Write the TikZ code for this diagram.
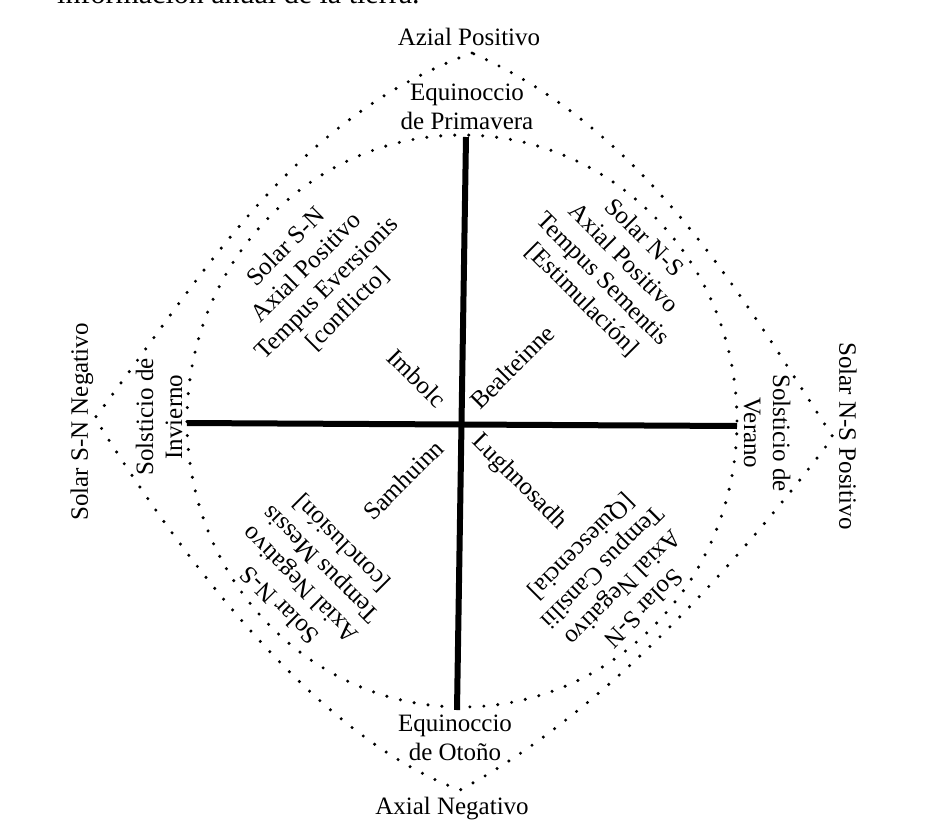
\documentclass[tikz,border=0pt]{standalone}
\usepackage{fontspec}
\setmainfont{Liberation Serif}
\begin{document}
\begin{tikzpicture}[x=1pt,y=-1pt,
  lbl/.style={font=\fontsize{25}{29}\selectfont, inner sep=0pt, align=center},
  bodytext/.style={font=\fontsize{30}{36}\selectfont, inner sep=0pt, anchor=base west},
  axisline/.style={line width=6pt},
  dotline/.style={line width=3.4pt, line cap=round, dash pattern=on 0pt off 14pt}]
\useasboundingbox[fill=white] (0,0) rectangle (935,836);

% truncated caption line at the top edge
\node[bodytext] (cap) at (57,3) {información anual de la tierra.};

% outer pointed dotted shape
\coordinate (T) at (472,53);
\coordinate (L) at (95,418);
\coordinate (R) at (833,437);
\coordinate (B) at (460,790);
\draw[dotline] (T) .. controls (293,118) and (205,272) .. (L)
  .. controls (174,545) and (310,735) .. (B)
  .. controls (601,715) and (737,565) .. (R)
  .. controls (740,294) and (646,130) .. (T);

% inner dotted ellipse
\coordinate (C) at (462,421);
\draw[dotline] (C) ellipse [x radius=275pt, y radius=286pt];

% cross
\coordinate (N) at (466,137);
\coordinate (S) at (457,710);
\coordinate (W) at (187,423);
\coordinate (E) at (737,426);
\draw[axisline] (N) -- (S);
\draw[axisline] (W) -- (E);

% outer labels
\node[lbl] (axpos) at (469,37) {Azial Positivo};
\node[lbl] (eqp) at (467,107) {Equinoccio\\de Primavera};
\node[lbl] (eqo) at (455,738) {Equinoccio\\de Otoño};
\node[lbl] (axneg) at (452,809) {Axial Negativo};
\node[lbl, rotate=90] (snneg) at (82,422) {Solar S-N Negativo};
\node[lbl, rotate=90] (solinv) at (159,417) {Solsticio de\\Invierno};
\node[lbl, rotate=-90] (nspos) at (848,436) {Solar N-S Positivo};
\node[lbl, rotate=-90] (solver) at (767,433) {Solsticio de\\Verano};

% quadrant blocks
\node[lbl, rotate=45] (ul) at (317,278) {Solar S-N\\Axial Positivo\\Tempus Eversionis\\{[conflicto]}};
\node[lbl, rotate=-45] (ur) at (613,269) {Solar N-S\\Axial Positivo\\Tempus Sementis\\{[Estimulación]}};
\node[lbl, rotate=135] (ll) at (311,574) {Solar N-S\\Axial Negativo\\Tempus Messis\\{[conclusión]}};
\node[lbl, rotate=-135] (lr) at (612,577) {Solar S-N\\Axial Negativo\\Tempus Cansilii\\{[Quiescencia]}};

% festival labels
\node[lbl, rotate=-45] (imbolc) at (417,378) {Imbolc};
\node[lbl, rotate=45] (bealt) at (512,367) {Bealteinne};
\node[lbl, rotate=45] (samh) at (403,480) {Samhuinn};
\node[lbl, rotate=-45] (lugh) at (519,482) {Lughnosadh};
\end{tikzpicture}
\end{document}
